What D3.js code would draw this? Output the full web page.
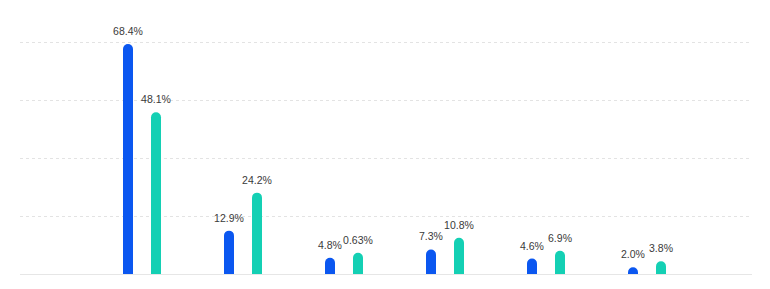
<!DOCTYPE html>
<html>
<head>
<meta charset="utf-8">
<script src="https://cdn.jsdelivr.net/npm/d3@7"></script>
<style>
  html, body { margin: 0; padding: 0; background: #fff; }
  #chart { width: 770px; height: 289px; }
</style>
</head>
<body>
<div id="chart"></div>
<script>

// data
const categories = ["g1", "g2", "g3", "g4", "g5", "g6"];
const blueValues = [68.4, 12.9, 4.8, 7.3, 4.6, 2.0];
const tealValues = [48.1, 24.2, 6.3, 10.8, 6.9, 3.8];
const blueLabels = ["68.4%", "12.9%", "4.8%", "7.3%", "4.6%", "2.0%"];
const tealLabels = ["48.1%", "24.2%", "0.63%", "10.8%", "6.9%", "3.8%"];
const series = ["blue", "teal"];
const colors = ["#0b57f0", "#14d0b4"];

const width = 770;
const height = 289;

const svg = d3.select("#chart")
    .append("svg")
    .attr("width", width)
    .attr("height", height);

const x = d3.scaleBand()
    .domain(categories)
    .range([91.5, 697.5]);

const xInner = d3.scaleBand()
    .domain(series)
    .range([x.bandwidth() / 2 - 19, x.bandwidth() / 2 + 19])
    .paddingInner(0.643);

const y = d3.scaleLinear()
    .domain([0, 69])
    .range([274, 42]);

// dashed grid
const gridTicks = d3.range(1, 5).map(i => 69 / 4 * i);
svg.selectAll("line.grid")
    .data(gridTicks)
    .enter()
    .append("line")
    .attr("class", "grid")
    .attr("x1", 20)
    .attr("x2", 752)
    .attr("y1", d => Math.round(y(d)) + 0.5)
    .attr("y2", d => Math.round(y(d)) + 0.5)
    .style("stroke", "#e3e3e3")
    .style("stroke-dasharray", "3,3");

// baseline
svg.append("line")
    .attr("x1", 20)
    .attr("x2", 752)
    .attr("y1", y(0) + 0.5)
    .attr("y2", y(0) + 0.5)
    .style("stroke", "#e6e6e6");

const rows = [];
categories.forEach(function (c, i) {
    rows.push({ cat: c, s: "blue", v: blueValues[i], label: blueLabels[i], color: colors[0] });
    rows.push({ cat: c, s: "teal", v: tealValues[i], label: tealLabels[i], color: colors[1] });
});

function barPath(d) {
    const w = xInner.bandwidth();
    const x0 = x(d.cat) + xInner(d.s);
    const r = w / 2;
    const y0 = y(0);
    const y1 = Math.min(y(d.v), y0 - r);
    return "M" + x0 + "," + y0 +
        "V" + (y1 + r) +
        "A" + r + "," + r + " 0 0 1 " + (x0 + w) + "," + (y1 + r) +
        "V" + y0 + "Z";
}

svg.selectAll("path.bar")
    .data(rows)
    .enter()
    .append("path")
    .attr("class", "bar")
    .attr("d", barPath)
    .attr("fill", d => d.color);

svg.selectAll("text.val")
    .data(rows)
    .enter()
    .append("text")
    .attr("class", "val")
    .attr("x", d => x(d.cat) + xInner(d.s) + xInner.bandwidth() / 2)
    .attr("y", d => y(d.v) - 9)
    .attr("text-anchor", "middle")
    .style("font-family", "'Liberation Sans', Arial, sans-serif")
    .style("font-size", "10.5px")
    .style("fill", "#3a3a3a")
    .text(d => d.label);

</script>
</body>
</html>
